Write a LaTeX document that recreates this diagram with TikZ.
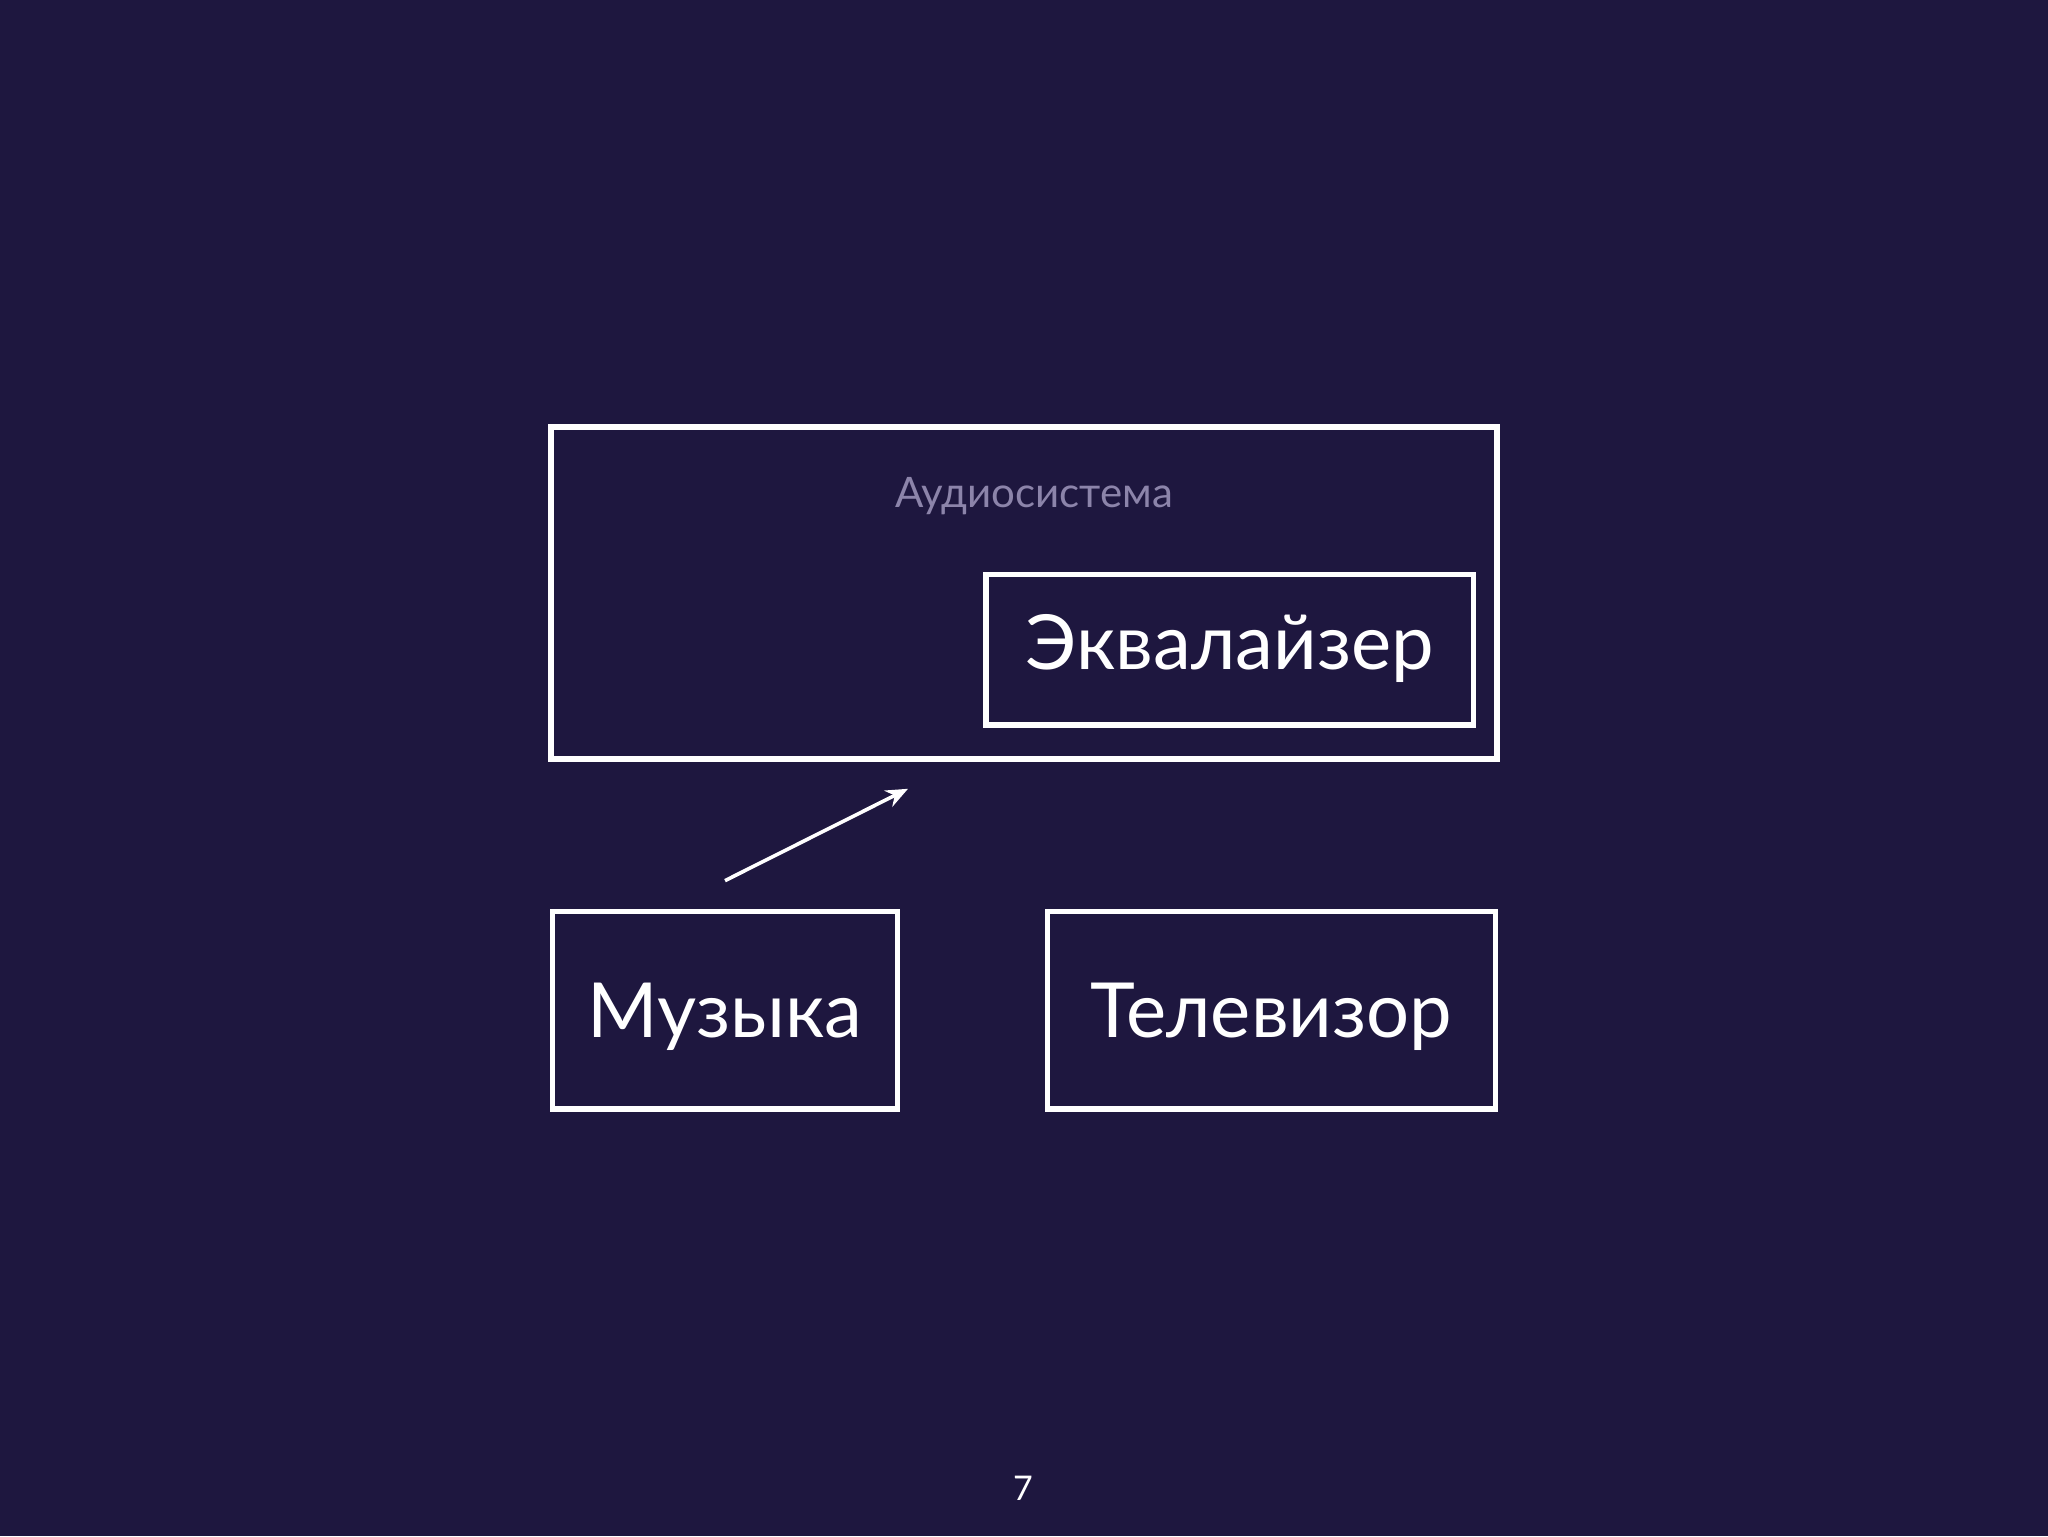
\documentclass[tikz,border=0pt]{standalone}
\usepackage{fontspec}
\setmainfont{Lato}
\usetikzlibrary{arrows.meta,positioning}
\definecolor{slidebg}{HTML}{1E173F}
\definecolor{captiongray}{HTML}{8C84AA}

\begin{document}
\begin{tikzpicture}[x=1pt,y=1pt,
box/.style={draw=white,line width=2.8pt,rectangle,inner sep=0pt},
bigtext/.style={text=white,font=\fontsize{38}{40}\selectfont,text depth=0pt},
link/.style={draw=white,line width=1.8pt,-{Stealth[length=11pt,width=9pt]}}]
\fill[slidebg] (0,0) rectangle (1024,768);
\useasboundingbox (0,0) rectangle (1024,768);
\node [box,minimum width=473pt,minimum height=166pt] (audio) at (512,471.5) {};
\node [text=captiongray,font=\fontsize{21}{23}\selectfont] (audiolabel) at (517,520) {Аудиосистема};
\node [box,minimum width=243.75pt,minimum height=75.25pt] (eq) at (614.9,443.1) {};
\node [box,minimum width=172.5pt,minimum height=98.75pt] (music) at (362.5,262.9) {};
\node [box,minimum width=224pt,minimum height=98.75pt] (tv) at (635.75,262.9) {};
\node [bigtext] (eqtext) at ([yshift=4pt]eq.center) {Эквалайзер};
\node [bigtext] (musictext) at (music.center) {Музыка};
\node [bigtext] (tvtext) at (tv.center) {Телевизор};
\node [text=white,font=\fontsize{17}{19}\selectfont] (page) at (511.5,24) {7};
\draw [link] ([yshift=14pt]music.north) -- ([xshift=-58pt,yshift=-13.5pt]audio.south);
\end{tikzpicture}
\end{document}
